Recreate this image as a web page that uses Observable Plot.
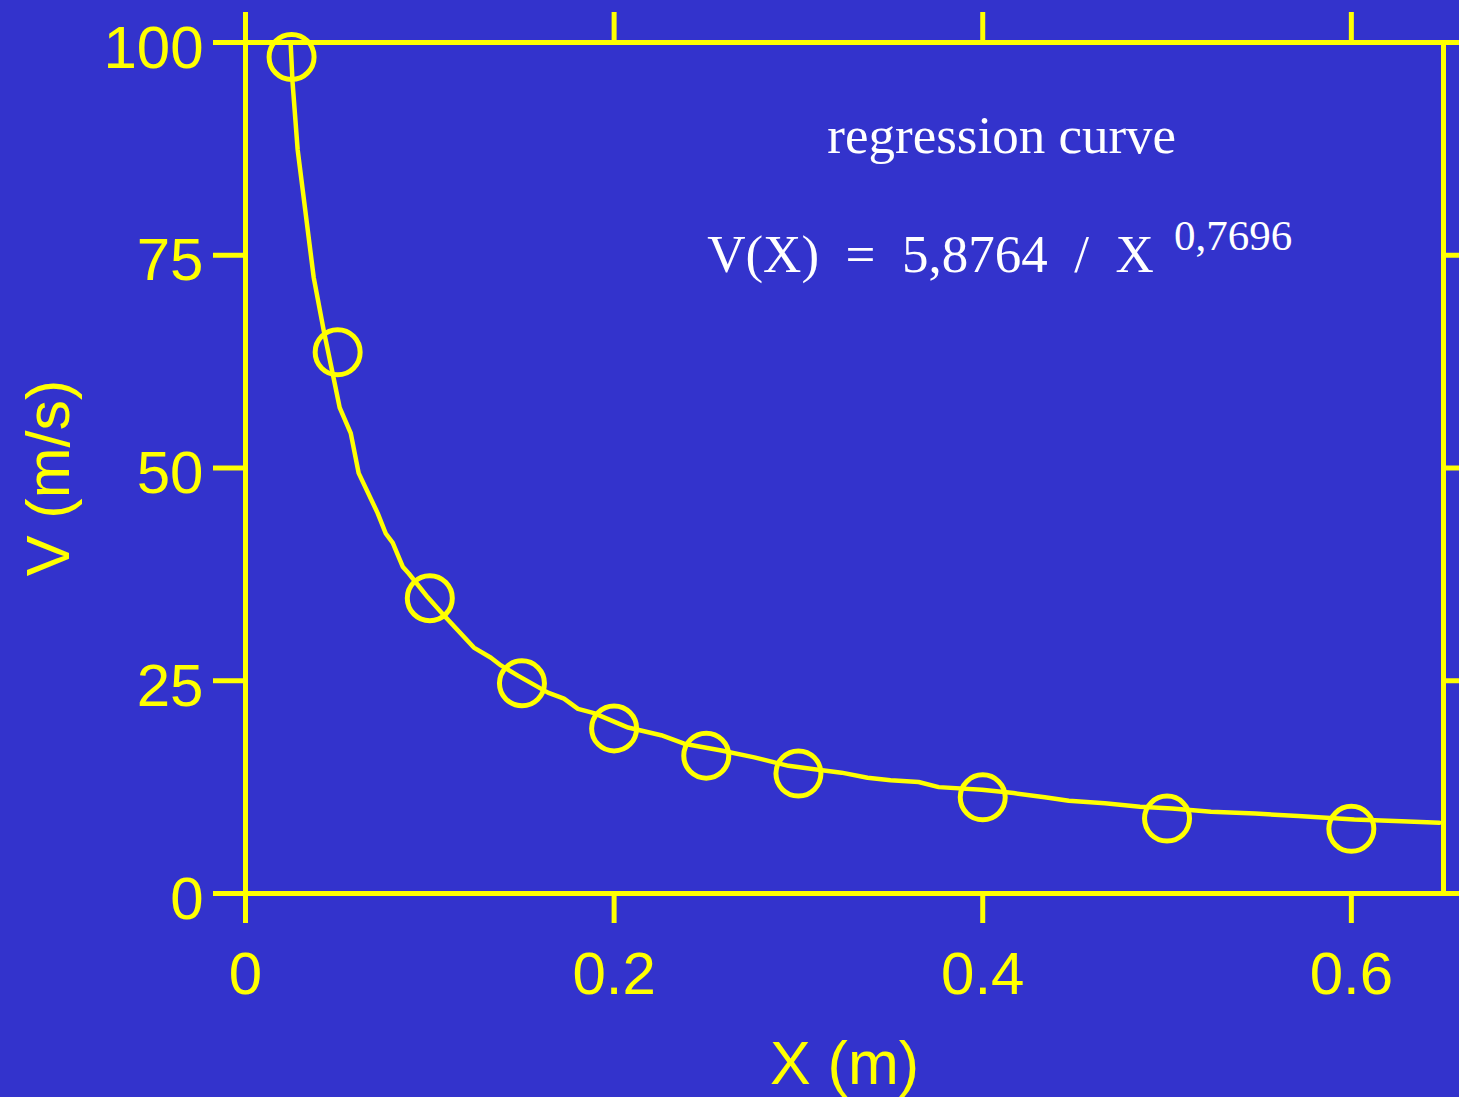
<!DOCTYPE html>
<html>
<head>
<meta charset="utf-8">
<script src="https://cdn.jsdelivr.net/npm/d3@7"></script>
<script src="https://cdn.jsdelivr.net/npm/@observablehq/plot@0.6"></script>
<style>
html, body { margin: 0; padding: 0; background: #3333cc; overflow: hidden; }
#chart svg { display: block; }
</style>
</head>
<body>
<div id="chart"></div>
<script>
// Measured data (circles)
const measuredX = [0.025, 0.05, 0.1, 0.15, 0.2, 0.25, 0.3, 0.4, 0.5, 0.6];
const measuredV = [98.3, 63.6, 34.7, 24.7, 19.4, 16.2, 14.1, 11.3, 8.8, 7.6];

// Regression curve
const curveX = [0.0245, 0.0255, 0.0283, 0.0370, 0.0424, 0.0473, 0.0511, 0.0571, 0.0614, 0.0717,
  0.0761, 0.0799, 0.0853, 0.0886, 0.0989, 0.1076, 0.1239, 0.1332, 0.1386, 0.1478,
  0.1641, 0.1728, 0.1804, 0.1891, 0.2076, 0.2255, 0.2380, 0.2582, 0.2761, 0.2946,
  0.3087, 0.3234, 0.3375, 0.3500, 0.3652, 0.3761, 0.3995, 0.4168, 0.4337, 0.4467,
  0.4663, 0.4853, 0.5027, 0.5239, 0.5478, 0.5712, 0.6016, 0.6272, 0.6478];
const curveV = [99.9, 95.4, 87.4, 72.4, 66.2, 61.1, 57.1, 54.1, 49.4, 44.7,
  42.3, 41.2, 38.4, 37.6, 34.8, 32.7, 28.9, 27.7, 26.8, 25.6,
  23.6, 22.9, 21.7, 21.2, 19.5, 18.6, 17.6, 16.8, 16.0, 15.0,
  14.6, 14.2, 13.6, 13.3, 13.1, 12.5, 12.2, 11.8, 11.3, 10.9,
  10.6, 10.2, 10.0, 9.6, 9.4, 9.1, 8.7, 8.5, 8.3];

const xTicks = [0, 0.2, 0.4, 0.6];
const xTickLabels = ["0", "0.2", "0.4", "0.6"];
const yTicks = [0, 25, 50, 75, 100];
const yTickLabels = ["0", "25", "50", "75", "100"];
const xLabel = "X (m)";
const yLabel = "V (m/s)";
const titleText = "regression curve";
const equationText = "V(X)\u00a0\u00a0=\u00a0\u00a05,8764\u00a0\u00a0/\u00a0\u00a0X";
const exponentText = "0,7696";

const YEL = "#ffff00";
const BG = "#3333cc";
const SANS = "'Liberation Sans', Arial, Helvetica, sans-serif";
const SERIF = "'Liberation Serif', 'Times New Roman', serif";

const points = measuredX.map((x, i) => ({x, v: measuredV[i]}));
const curve = curveX.map((x, i) => ({x, v: curveV[i]}));

const chart = Plot.plot({
  width: 1459,
  height: 1097,
  marginLeft: 245,
  marginRight: 16,
  marginTop: 42,
  marginBottom: 204,
  style: {background: BG, fontFamily: SANS, overflow: "visible"},
  x: {domain: [0, 0.65]},
  y: {domain: [0, 100]},
  marks: [
    Plot.frame({stroke: YEL, strokeWidth: 5}),
    Plot.axisX({anchor: "bottom", ticks: xTicks, tickSize: 30, strokeWidth: 5, stroke: YEL, fill: "none", label: null}),
    Plot.axisX({anchor: "top", ticks: xTicks, tickSize: 31, strokeWidth: 5, stroke: YEL, fill: "none", label: null}),
    Plot.axisY({anchor: "left", ticks: yTicks, tickSize: 32, strokeWidth: 5, stroke: YEL, fill: "none", label: null}),
    Plot.axisY({anchor: "right", ticks: yTicks, tickSize: 18, strokeWidth: 5, stroke: YEL, fill: "none", label: null}),
    Plot.text(xTicks, {x: d => d, frameAnchor: "bottom", dy: 100, lineAnchor: "bottom", textAnchor: "middle",
      text: (d, i) => xTickLabels[i], fontSize: 60, fill: YEL, fontFamily: SANS}),
    Plot.text(yTicks, {y: d => d, frameAnchor: "left", dx: -42, dy: 6, lineAnchor: "middle", textAnchor: "end",
      text: (d, i) => yTickLabels[i], fontSize: 60, fill: YEL, fontFamily: SANS}),
    Plot.line(curve, {x: "x", y: "v", stroke: YEL, strokeWidth: 4.5, strokeLinejoin: "round"}),
    Plot.dot(points, {x: "x", y: "v", r: 22.5, stroke: YEL, strokeWidth: 5, fill: "none"}),
    Plot.text([xLabel], {frameAnchor: "bottom", dy: 190, lineAnchor: "bottom", textAnchor: "middle",
      fontSize: 61, fill: YEL, fontFamily: SANS}),
    Plot.text([yLabel], {frameAnchor: "left", dx: -177, dy: 10, rotate: -90, lineAnchor: "bottom", textAnchor: "middle",
      fontSize: 61, fill: YEL, fontFamily: SANS}),
    Plot.text([titleText], {x: 0.4103, y: 87.0, textAnchor: "middle", lineAnchor: "bottom",
      fontSize: 53, fill: "white", fontFamily: SERIF}),
    Plot.text([equationText], {x: 0.2505, y: 73.0, textAnchor: "start", lineAnchor: "bottom",
      fontSize: 53, fill: "white", fontFamily: SERIF}),
    Plot.text([exponentText], {x: 0.5038, y: 75.6, textAnchor: "start", lineAnchor: "bottom",
      fontSize: 43, fill: "white", fontFamily: SERIF})
  ]
});
document.getElementById("chart").appendChild(chart);
</script>
</body>
</html>
